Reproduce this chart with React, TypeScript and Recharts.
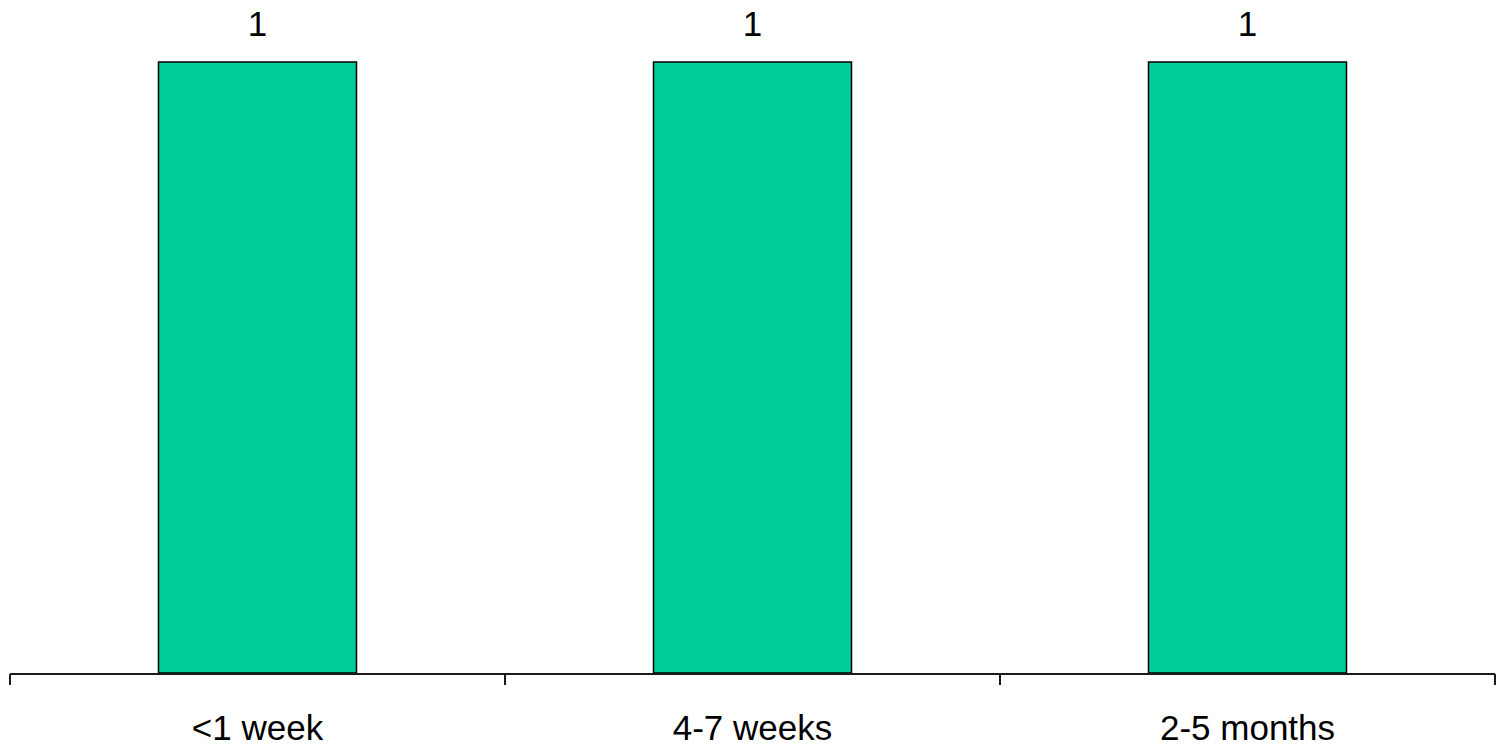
import { BarChart, Bar, XAxis, YAxis, LabelList } from "recharts";

const categories = ["<1 week", "4-7 weeks", "2-5 months"];
const counts = [1, 1, 1];
const edgeTicks = [0, 1, 2, 3];

const data = categories.map((name, i) => ({ name, idx: i + 0.5, count: counts[i] }));

const font = "Liberation Sans, Arial, sans-serif";

export default function App() {
    return (
        <div style={{ position: "absolute", left: 0, top: 0, background: "#fff" }}>
            <BarChart
                width={1497}
                height={746}
                data={data}
                margin={{ top: 62, right: 2, left: 10, bottom: 0 }}
                barCategoryGap={"30%"}
            >
                <XAxis
                    dataKey="name"
                    height={1}
                    axisLine={false}
                    tickLine={false}
                    tickMargin={36}
                    tick={{ fill: "#000", fontSize: 35, fontFamily: font }}
                />
                <XAxis
                    xAxisId="edges"
                    type="number"
                    dataKey="idx"
                    domain={[0, 3]}
                    ticks={edgeTicks}
                    height={72}
                    tickSize={11}
                    tickFormatter={() => ""}
                    stroke="#1a1a1a"
                    strokeWidth={2}
                />
                <YAxis hide domain={[0, 1]} />
                <Bar
                    dataKey="count"
                    fill="#00CC99"
                    stroke="#000"
                    strokeWidth={1.5}
                    isAnimationActive={false}
                >
                    <LabelList
                        dataKey="count"
                        position="top"
                        offset={26}
                        fill="#000"
                        fontSize={35}
                        fontFamily={font}
                    />
                </Bar>
            </BarChart>
        </div>
    );
}
